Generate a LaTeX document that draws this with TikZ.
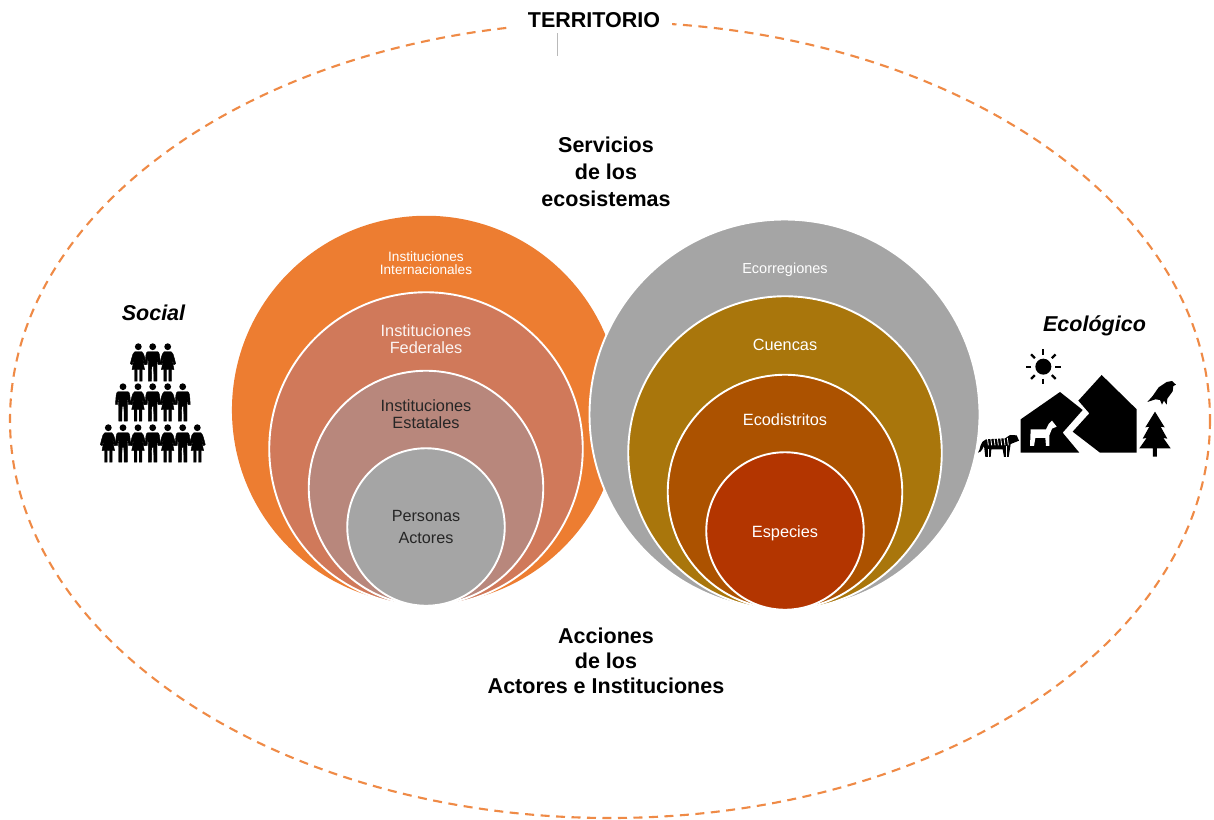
\documentclass[tikz,border=0pt]{standalone}
\usepackage{fontspec}
\setmainfont{Liberation Sans}
\definecolor{oA}{HTML}{ED7D31}
\definecolor{oB}{HTML}{D0795A}
\definecolor{oC}{HTML}{B8877C}
\definecolor{gA}{HTML}{A5A5A5}
\definecolor{rB}{HTML}{A9760C}
\definecolor{rC}{HTML}{AC5200}
\definecolor{rD}{HTML}{B33500}
\definecolor{ink}{HTML}{262626}
\tikzset{
  disc/.style={circle,draw=white,line width=1.9pt,inner sep=0pt,outer sep=0pt},
  head/.style={font=\fontsize{21.5}{25}\selectfont\bfseries,align=center,text=black,inner sep=0pt},
  headit/.style={font=\fontsize{21.5}{25}\selectfont\bfseries\itshape,text=black,inner sep=0pt},
  lab/.style={font=\fontsize{16.3}{17}\selectfont,align=center,inner sep=0pt},
  labs/.style={font=\fontsize{13.6}{13.5}\selectfont,align=center,text=white,inner sep=0pt},
  man/.pic={
    \fill (0,0) circle (3.4);
    \filldraw[line width=0.4pt,line join=round] (-5,5) -- (5,5) .. controls (6.5,5.5) and (7,7) .. (7.5,18) -- (5.6,18) -- (4.6,10) -- (4.3,19) -- (4.3,34.5) -- (1.2,34.5) -- (0.9,20) -- (-0.9,20) -- (-1.2,34.5) -- (-4.3,34.5) -- (-4.3,19) -- (-4.6,10) -- (-5.6,18) -- (-7.5,18) .. controls (-7,7) and (-6.5,5.5) .. (-5,5) -- cycle;
  },
  woman/.pic={
    \fill (0,0) circle (3.4);
    \filldraw[line width=0.4pt,line join=round] (-3.5,5) -- (3.5,5) .. controls (5,5.5) and (5.5,7) .. (8,17) -- (6.3,18) -- (3.8,10) -- (6.3,23) -- (3.8,23) -- (3.8,34.5) -- (1.2,34.5) -- (1.2,23) -- (-1.2,23) -- (-1.2,34.5) -- (-3.8,34.5) -- (-3.8,23) -- (-6.3,23) -- (-3.8,10) -- (-6.3,18) -- (-8,17) .. controls (-5.5,7) and (-5,5.5) .. (-3.5,5) -- cycle;
  }
}
\begin{document}
\begin{tikzpicture}[x=1pt,y=-1pt]
\useasboundingbox (0,0) rectangle (1214,819);
\fill[white] (0,0) rectangle (1214,819);
% territory ellipse
\coordinate (centre) at (610,420);
\draw[oA!90!white,line width=2.1pt,dash pattern=on 9pt off 6.5pt] (centre) ellipse [x radius=600,y radius=398];
\fill[white] (510,5) rectangle (672,35);
\node[font=\fontsize{21.5}{24}\selectfont\bfseries,text=black,inner sep=0pt] (terr) at (594,20) {TERRITORIO};
\coordinate (tickend) at (557,56);
\draw[gray!55,line width=1pt] (557,33) -- (tickend);
% left circles
\node[disc,draw=none,minimum size=388.5pt,fill=oA] (L1) at (426.2,410) {};
\node[disc,minimum size=313.5pt,fill=oB] (L2) at (426,449) {};
\node[disc,minimum size=234.5pt,fill=oC] (L3) at (426,488) {};
\node[disc,minimum size=157.5pt,fill=gA] (L4) at (426,527) {};
% right circles
\node[disc,minimum size=390pt,fill=gA] (R1) at (784.5,414.5) {};
\node[disc,minimum size=313.5pt,fill=rB] (R2) at (785,453) {};
\node[disc,minimum size=234.5pt,fill=rC] (R3) at (785,492) {};
\node[disc,minimum size=157.5pt,fill=rD] (R4) at (785,531) {};
% circle labels
\node[labs] (t1) at (426,263) {Instituciones\\Internacionales};
\node[lab,text=white!92!oB] (t2) at (426,339.5) {Instituciones\\Federales};
\node[lab,text=ink] (t3) at (426,414) {Instituciones\\Estatales};
\node[lab,text=ink,font=\fontsize{16.2}{22.5}\selectfont] (t4) at (426,527) {Personas\\Actores};
\node[labs,font=\fontsize{14.5}{16}\selectfont] (r1) at (785,269.5) {Ecorregiones};
\node[lab,text=white] (r2) at (785,344.5) {Cuencas};
\node[lab,text=white] (r3) at (785,419.5) {Ecodistritos};
\node[lab,text=white] (r4) at (785,533) {Especies};
% headings
\node[head,font=\fontsize{21.5}{27}\selectfont\bfseries] (sv) at (606,171.5) {Servicios\\de los\\ecosistemas};
\node[head] (ac) at (606,660.5) {Acciones\\de los\\Actores e Instituciones};
\node[headit] (so) at (153.5,313) {Social};
\node[headit] (ec) at (1094.5,325.5) {Ecológico};
% people
\fill[black] foreach \px/\py/\kind in {
  138.3/346.7/woman,152.7/346.7/man,167.7/346.7/woman,
  123/386.7/man,138/386.7/woman,152.7/386.7/man,167.7/386.7/woman,182.7/386.7/man,
  108.3/427.7/woman,123/427.7/man,138/427.7/woman,152.7/427.7/man,167.7/427.7/woman,182.7/427.7/man,197.3/427.7/woman}
  { (\px,\py) pic {\kind} };
% landscape icons, in coordinates of a 3x crop
\begin{scope}[shift={(970,310)},x=0.3333pt,y=-0.3333pt]
  % sun
  \fill (220,170) circle (24);
  \foreach \a in {0,45,...,315}
    \draw[line width=2.3pt] (220,170) ++(\a:36) -- ++(\a:16);
  % mountains
  \fill (395,195) -- (500,298) -- (500,428) -- (390,428) -- (308,365) -- (358,310) -- (325,272) -- cycle;
  \fill (270,246) -- (338,300) -- (278,368) -- (328,428) -- (152,428) -- (152,328) -- cycle;
  % goat
  \fill[white] (182,358) -- (228,358) -- (236,342) -- (246,332) -- (260,350) -- (246,356) -- (238,376) -- (238,408) -- (228,408) -- (226,384) -- (196,384) -- (192,408) -- (180,408) -- cycle;
  % tree
  \fill (555,305) -- (584,352) -- (572,350) -- (592,386) -- (580,384) -- (602,415) -- (561,415) -- (561,440) -- (549,440) -- (549,415) -- (508,415) -- (530,384) -- (518,386) -- (538,350) -- (526,352) -- cycle;
  % bird
  \fill (618,224) -- (606,213) -- (590,216) -- (566,232) -- (548,258) -- (532,276) -- (556,268) -- (570,270) -- (576,284) -- (582,272) -- (590,284) -- (592,266) -- (608,244) -- (610,228) -- cycle;
  % tiger
  \fill (24,428) .. controls (32,420) and (28,394) .. (48,388) -- (105,385) -- (120,375) -- (140,376) -- (147,392) -- (122,402) -- (116,441) -- (102,441) -- (98,418) -- (64,418) -- (62,441) -- (46,441) -- (42,408) .. controls (38,414) and (36,426) .. (24,428) -- cycle;
  \foreach \sx in {52,62,72,82,92,102,112}
    \draw[white,line width=0.8pt] (\sx,384) -- (\sx+3,406);
  \draw[white,line width=0.8pt] (54,418) -- (54,441) (108,408) -- (108,441);
\end{scope}
\end{tikzpicture}
\end{document}
